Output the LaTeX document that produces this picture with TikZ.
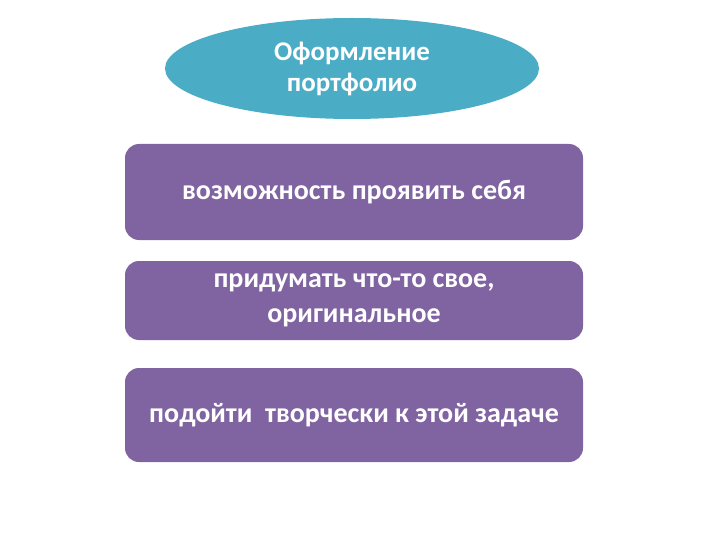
\documentclass[tikz,border=0pt]{standalone}
\usepackage{fontspec}
\setmainfont{Carlito}
\usetikzlibrary{shapes.geometric}
\definecolor{teal1}{HTML}{4BACC6}
\definecolor{purp}{HTML}{8064A2}
\tikzset{
  box/.style={fill=purp, draw=none, rounded corners=14pt, minimum width=458pt, text=white, font=\bfseries\fontsize{28}{35}\selectfont, align=center, inner sep=0pt},
  oval/.style={ellipse, fill=teal1, draw=none, minimum width=374pt, minimum height=101pt, text=white, font=\bfseries\fontsize{27}{31}\selectfont, align=center, inner sep=0pt}
}
\begin{document}
\begin{tikzpicture}[x=1pt,y=-1pt]
\useasboundingbox (0,0) rectangle (720,540);
\node[oval] (top) at (352,68.5) {Оформление\\портфолио};
\node[box, minimum height=96pt] (b1) at (354,192) {возможность проявить себя};
\node[box, minimum height=79pt] (b2) at (354,300.5) {придумать что-то свое,\\оригинальное};
\node[box, minimum height=94pt] (b3) at (354,415) {подойти\ \ творчески к этой задаче};
\end{tikzpicture}
\end{document}
